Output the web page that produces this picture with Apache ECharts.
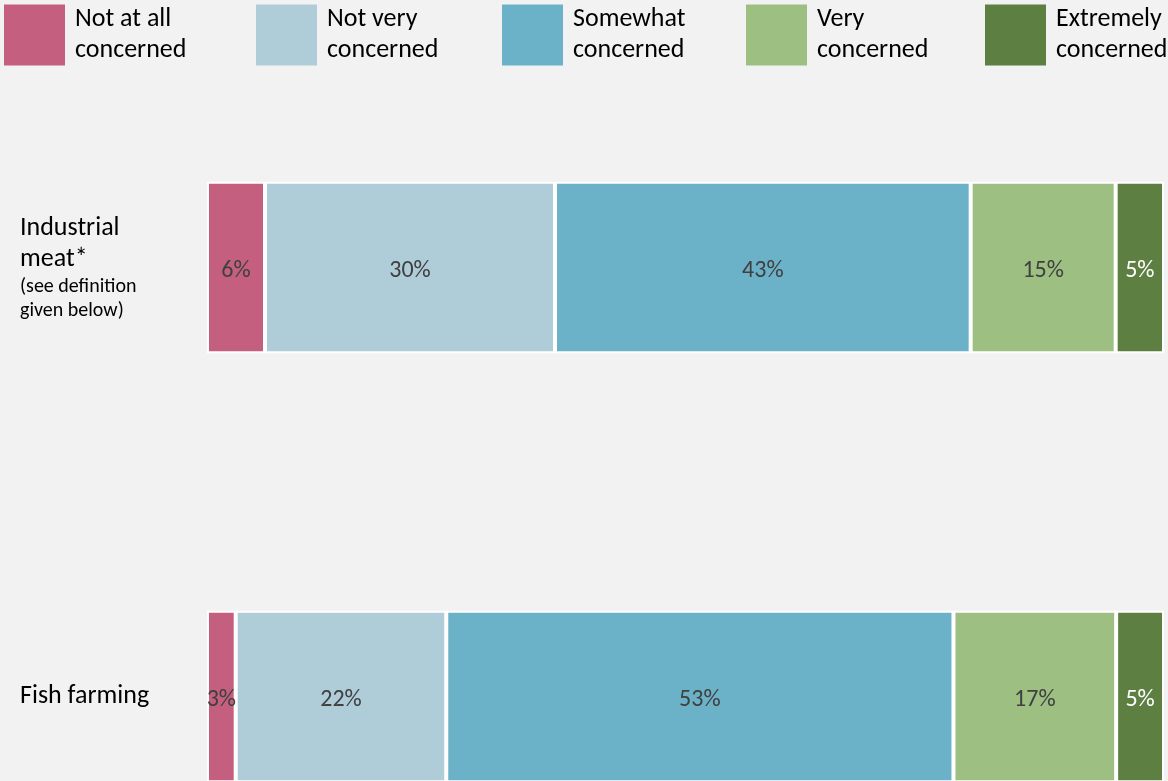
<!DOCTYPE html>
<html>
<head>
<meta charset="utf-8">
<script src="https://cdn.jsdelivr.net/npm/echarts@6/dist/echarts.min.js"></script>
<style>
  html, body { margin: 0; padding: 0; background: #f2f2f2; }
  #chart { width: 1168px; height: 781px; }
</style>
</head>
<body>
<div id="chart"></div>
<script>
// Survey responses: level of concern, by topic
const categories = ['Industrial meat*', 'Fish farming'];
const levels = ['Not at all\nconcerned', 'Not very\nconcerned', 'Somewhat\nconcerned', 'Very\nconcerned', 'Extremely\nconcerned'];
const notAtAll   = [6, 3];
const notVery    = [30, 22];
const somewhat   = [43, 53];
const very       = [15, 17];
const extremely  = [5, 5];

const colors = ['#c45f7f', '#aecdd9', '#6bb2c9', '#9dbf82', '#5d7f41'];
const labelColors = ['#404040', '#404040', '#404040', '#404040', '#ffffff'];
const FONT = 'Carlito, Lato, sans-serif';

const seriesValues = [notAtAll, notVery, somewhat, very, extremely];
// each row is drawn as a share of its own total so both bars span the full width
const rowTotals = categories.map((_, i) => seriesValues.reduce((s, arr) => s + arr[i], 0));

const series = levels.map((name, k) => ({
  name: name,
  type: 'bar',
  stack: 'total',
  barWidth: '40%',
  itemStyle: { color: colors[k], borderColor: '#ffffff', borderWidth: 2 },
  label: {
    show: true,
    position: 'inside',
    color: labelColors[k],
    fontFamily: FONT,
    fontSize: 24,
    offset: [0, 3],
    formatter: p => seriesValues[k][p.dataIndex] + '%'
  },
  data: seriesValues[k].map((v, i) => ({ value: v / rowTotals[i] * 100 }))
}));

const legendLefts = [4, 256, 502, 746, 985];
const legends = levels.map((name, k) => ({
  data: [{ name: name, icon: 'rect' }],
  left: legendLefts[k],
  top: 4,
  padding: 0,
  itemWidth: 61,
  itemHeight: 61,
  selectedMode: false,
  itemStyle: { borderWidth: 0 },
  textStyle: {
    fontFamily: FONT,
    fontSize: 26,
    lineHeight: 31,
    color: '#000000',
    padding: [0, 0, 0, 5]
  }
}));

const chart = echarts.init(document.getElementById('chart'));
chart.setOption({
  backgroundColor: '#f2f2f2',
  animation: false,
  color: colors,
  legend: legends,
  grid: { left: 207, right: 4, top: 53, bottom: -130, outerBoundsMode: 'none' },
  xAxis: { type: 'value', min: 0, max: 100, show: false },
  yAxis: {
    type: 'category',
    inverse: true,
    data: categories,
    axisLine: { show: false },
    axisTick: { show: false },
    axisLabel: {
      align: 'left',
      margin: 187,
      fontFamily: FONT,
      color: '#000000',
      formatter: v => v === 'Industrial meat*'
        ? '{a|Industrial}\n{a|meat*}\n{b|(see definition}\n{b|given below)}'
        : '{a|' + v + '}',
      rich: {
        a: { fontFamily: FONT, fontSize: 26, lineHeight: 31, color: '#000000' },
        b: { fontFamily: FONT, fontSize: 20, lineHeight: 24, color: '#000000' }
      }
    }
  },
  series: series
});
</script>
</body>
</html>
